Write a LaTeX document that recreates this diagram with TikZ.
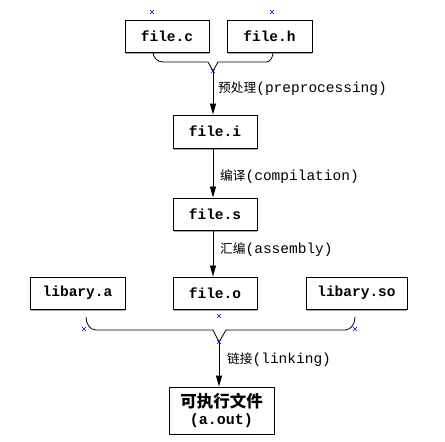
\documentclass[tikz,border=0pt]{standalone}
\usepackage{fontspec}
\setmonofont{Liberation Mono}
\newfontfamily\cjk{Noto Sans CJK SC}
\usetikzlibrary{arrows.meta}
\begin{document}
\begin{tikzpicture}[x=1pt,y=1pt,
  box/.style={draw,line width=0.9pt,inner sep=0pt,align=center,
    font=\ttfamily\bfseries\fontsize{14.5}{16}\selectfont},
  lbl/.style={anchor=west,inner sep=0pt},
  conn/.style={line width=0.8pt},
  arr/.style={conn,-{Triangle[length=11pt,width=6pt]}},
  shade/.style={gray!70,line width=0.8pt},
  mk/.style={blue,line width=0.5pt}]
\useasboundingbox (0,0) rectangle (445,442);
\newcommand\cjklab[2]{{\fontsize{12.7}{14}\cjk\selectfont #1}{\ttfamily\fontsize{14.5}{14}\selectfont #2}}

% boxes
\node[box,minimum width=84pt,minimum height=32pt] (fc) at (167,406) {file.c};
\node[box,minimum width=85pt,minimum height=32pt] (fh) at (269.5,406) {file.h};
\node[box,minimum width=84pt,minimum height=33pt] (fi) at (215,310.5) {file.i};
\node[box,minimum width=84pt,minimum height=32pt] (fs) at (215,228) {file.s};
\node[box,minimum width=95pt,minimum height=32pt] (la) at (77.5,149) {libary.a};
\node[box,minimum width=84pt,minimum height=32pt] (fo) at (215,149) {file.o};
\node[box,minimum width=101pt,minimum height=32pt] (lso) at (356.5,149) {libary.so};
\node[box,minimum width=105pt,minimum height=47pt] (out) at (221.5,31.5)
  {{\cjk\bfseries\fontsize{16.5}{19}\selectfont 可执行文件}\\[1pt]{\fontsize{15}{19}\selectfont(a.out)}};
\foreach \n in {fc,fh,fi,fs,la,fo,lso}
  \draw[shade] ([shift={(1,-1)}]\n.south west) -- ([shift={(0,-1)}]\n.south east);

% top brace
\coordinate (t1) at (213,371);
\coordinate (b1) at (153,390);
\coordinate (b2) at (273,390);
\draw[conn] (b1) to[out=-90,in=180] (163,380) -- (208,380) -- (t1)
  -- (218,380) -- (266,380) to[out=0,in=-90] (b2);
\draw[arr] (t1) -- (t1 |- fi.north);
\node[lbl] (l1) at (218,353) {\cjklab{预处理}{(preprocessing)}};

\draw[arr] (fi.south -| t1) -- (fs.north -| t1);
\node[lbl] (l2) at (220,265) {\cjklab{编译}{(compilation)}};

\draw[arr] (fs.south -| t1) -- (fo.north -| t1);
\node[lbl] (l3) at (220,192) {\cjklab{汇编}{(assembly)}};

% bottom brace
\coordinate (t2) at (219,100);
\coordinate (b3) at (86,125);
\coordinate (b4) at (355,125);
\draw[conn] (b3) to[out=-90,in=180] (96,112) -- (213,112) -- (t2)
  -- (226,112) -- (345,112) to[out=0,in=-90] (b4);
\draw[arr] (t2) -- (t2 |- out.north);
\node[lbl] (l4) at (227,82) {\cjklab{链接}{(linking)}};

% connection point marks
\coordinate (m1) at (152,430);
\coordinate (m2) at (272,430);
\coordinate (m3) at (84,113);
\coordinate (m4) at (355,113);
\coordinate (m5) at (219,126);
\foreach \m in {m1,m2,m3,m4,m5,t1,t2}
  \draw[mk] ([shift={(-2,-2)}]\m) -- ([shift={(2,2)}]\m)
            ([shift={(-2,2)}]\m) -- ([shift={(2,-2)}]\m);
\end{tikzpicture}
\end{document}
